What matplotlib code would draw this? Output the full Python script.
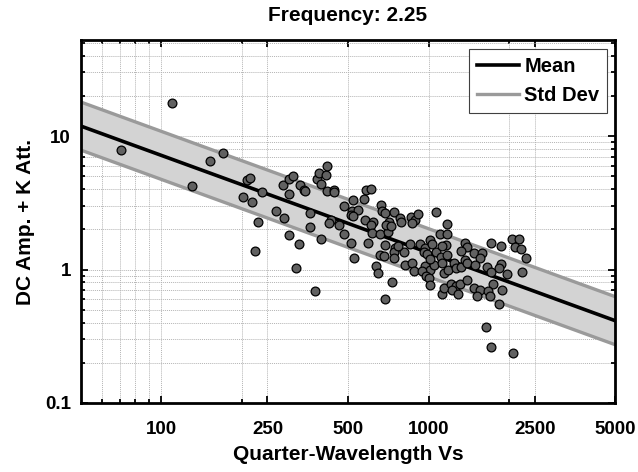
# DC amplification + kappa attenuation vs quarter-wavelength Vs, log-log scatter
# with a mean trend line and +/- one standard deviation band

import numpy as np
import matplotlib
matplotlib.use('Agg')
import matplotlib.pyplot as plt
from matplotlib.ticker import FixedLocator, NullFormatter, LogLocator


# data
vs_qwl = [70.8, 110, 130, 152, 170, 202, 209, 215, 219, 231, 225, 239,
		270, 287, 286, 300, 311, 300, 300, 329, 320, 332, 341, 346,
		361, 361, 377, 383, 388, 415, 418, 396, 418, 442, 397, 432,
		423, 464, 482, 482, 522, 516, 543, 512, 514, 525, 524, 576,
		586, 607, 581, 621, 607, 596, 615, 661, 704, 665, 671, 690,
		741, 710, 696, 727, 785, 791, 690, 752, 741, 808, 772, 661,
		684, 741, 639, 646, 731, 686, 820, 856, 869, 886, 859, 891,
		910, 866, 933, 972, 1017, 1033, 1071, 1102, 1168, 1175, 960, 989,
		1071, 1109, 1168, 1158, 1121, 972, 1015, 1044, 1015, 944, 977, 1000,
		1015, 1125, 1141, 1125, 1180, 1141, 1209, 1262, 1227, 1288, 1310, 1244,
		1262, 1326, 1364, 1388, 1396, 1364, 1388, 1326, 1478, 1589, 1556, 1717,
		1861, 2046, 2178, 2100, 2211, 2308, 2244, 1649, 1707, 1861, 1834, 1971,
		1747, 1888, 1478, 1556, 1668, 1697, 1834, 1645, 1717, 2076, 1496, 1513,
		445]
dc_amp = [7.83, 17.7, 4.26, 6.51, 7.47, 3.50, 4.72, 4.86, 3.23, 2.29, 1.38, 3.84,
		2.73, 2.45, 4.33, 4.80, 5.00, 3.66, 1.81, 1.55, 1.03, 4.28, 3.97, 3.88,
		2.65, 2.08, 0.688, 4.80, 5.29, 5.15, 5.94, 4.41, 3.88, 3.93, 1.69, 2.37,
		2.23, 2.15, 2.98, 1.83, 3.34, 2.75, 2.78, 2.55, 1.57, 1.23, 2.51, 3.40,
		3.97, 4.04, 2.34, 2.27, 2.15, 1.58, 1.88, 1.84, 1.91, 3.07, 2.73, 2.63,
		2.70, 2.27, 2.15, 2.11, 2.45, 2.26, 1.52, 1.44, 1.35, 1.35, 1.49, 1.28,
		1.26, 1.23, 1.06, 0.943, 0.807, 0.606, 1.09, 1.55, 1.12, 0.976, 2.48, 2.34,
		2.60, 2.23, 1.55, 1.45, 1.66, 1.55, 2.70, 1.84, 2.18, 1.86, 1.35, 1.30,
		1.35, 1.24, 1.28, 1.52, 1.49, 1.06, 1.00, 1.09, 1.19, 0.971, 0.891, 0.865,
		0.772, 1.11, 0.943, 0.653, 1.00, 0.733, 0.785, 0.750, 0.708, 0.653, 0.776, 1.12,
		1.02, 1.05, 1.17, 1.11, 0.831, 1.57, 1.48, 1.38, 1.32, 1.32, 1.23, 1.59,
		1.49, 1.68, 1.68, 1.48, 1.42, 1.21, 0.959, 1.04, 0.959, 1.10, 1.02, 0.922,
		0.776, 0.708, 0.721, 0.700, 0.691, 0.631, 0.550, 0.372, 0.263, 0.235, 1.09, 0.631,
		3.79]

# trend: y = amp_at_100 * (x/100)^slope, band is +/- sigma in log10
amp_at_100 = 7.18
slope = -0.73
sigma_log = 0.18

x_ticks = [100, 250, 500, 1000, 2500, 5000]
x_minor = [60, 70, 80, 90, 200, 2000]
y_ticks = [0.1, 1, 10]
y_ticklabels = ['0.1', '1', '10']

title = 'Frequency: 2.25'
xlabel = 'Quarter-Wavelength Vs'
ylabel = 'DC Amp. + K Att.'


def main():
	plt.rcParams['font.family'] = ['Liberation Sans', 'DejaVu Sans']
	plt.rcParams['font.weight'] = 'bold'
	plt.rcParams['font.size'] = 13.5

	fig = plt.figure(figsize=(6.38, 4.72), dpi=100)
	ax = fig.add_axes([0.1262, 0.1462, 0.8385, 0.768])
	ax.set_xscale('log')
	ax.set_yscale('log')
	ax.set_xlim(50, 5000)
	ax.set_ylim(0.1, 52)

	xx = np.logspace(np.log10(50), np.log10(5000), 200)
	mean = amp_at_100 * (xx / 100.0) ** slope
	upper = mean * 10 ** sigma_log
	lower = mean / 10 ** sigma_log

	ax.fill_between(xx, lower, upper, color='#d3d3d3', lw=0, zorder=1)
	ax.plot(xx, upper, color='#9a9a9a', lw=2.4, zorder=2, label='Std Dev')
	ax.plot(xx, lower, color='#9a9a9a', lw=2.4, zorder=2)
	ax.plot(xx, mean, color='black', lw=2.6, zorder=3, label='Mean')

	ax.scatter(vs_qwl, dc_amp, s=40, c='#616161', edgecolors='black',
				linewidths=0.9, zorder=4)

	# ticks
	ax.xaxis.set_major_locator(FixedLocator(x_ticks))
	ax.set_xticklabels([str(t) for t in x_ticks])
	ax.xaxis.set_minor_locator(FixedLocator(x_minor))
	ax.xaxis.set_minor_formatter(NullFormatter())
	ax.yaxis.set_major_locator(FixedLocator(y_ticks))
	ax.set_yticklabels(y_ticklabels)
	ax.yaxis.set_minor_locator(LogLocator(base=10, subs=np.arange(2, 10)))
	ax.yaxis.set_minor_formatter(NullFormatter())
	ax.tick_params(which='both', direction='in', top=True, right=True,
				width=1.3, labelsize=13.5)
	ax.tick_params(which='major', length=5)
	ax.tick_params(which='minor', length=3)
	ax.tick_params(axis='x', which='major', pad=13)
	ax.tick_params(axis='y', which='major', pad=7)

	ax.grid(True, which='both', color='#b4b4b4', lw=0.7, ls=(0, (1, 1)), zorder=0)
	ax.set_axisbelow(True)
	for sp in ax.spines.values():
		sp.set_linewidth(2)

	ax.set_title(title, fontsize=15, fontweight='bold', pad=14)
	ax.set_xlabel(xlabel, fontsize=15, fontweight='bold', labelpad=5)
	ax.set_ylabel(ylabel, fontsize=15, fontweight='bold', labelpad=7)

	# legend: Mean first, then Std Dev
	h, l = ax.get_legend_handles_labels()
	order = [l.index('Mean'), l.index('Std Dev')]
	leg = ax.legend([h[i] for i in order], [l[i] for i in order],
					loc='upper right', fancybox=False, framealpha=1,
					edgecolor='#404040', handlelength=2.1, handletextpad=0.25,
					borderaxespad=0.4, labelspacing=0.5, borderpad=0.4,
					prop={'weight': 'bold', 'size': 14.5})
	leg.get_frame().set_linewidth(0.8)

	fig.savefig('out.png', dpi=100)


if __name__ == '__main__':
	main()
